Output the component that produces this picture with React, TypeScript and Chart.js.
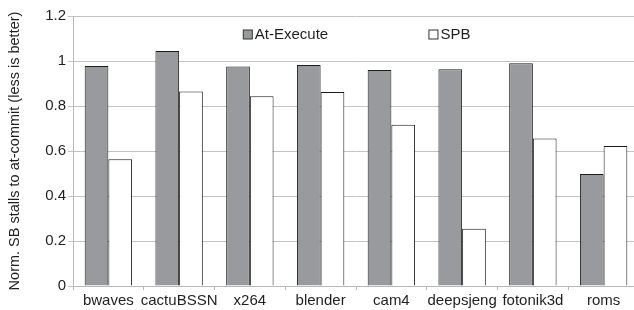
import React, { useEffect, useRef } from "react";
import { Chart, registerables } from "chart.js";

Chart.register(...registerables);

const categories = ["bwaves", "cactuBSSN", "x264", "blender", "cam4", "deepsjeng", "fotonik3d", "roms"];
const atExecute = [0.978, 1.044, 0.976, 0.982, 0.96, 0.963, 0.99, 0.498];
const spb = [0.563, 0.865, 0.843, 0.862, 0.717, 0.255, 0.656, 0.622];
const seriesNames = ["At-Execute", "SPB"];
const yTitle = "Norm. SB stalls to at-commit (less is better)";

const FONT = "'Liberation Sans', Arial, sans-serif";
const TEXT = "#1f1f1f";
const GRAY = "#999a9e";
const EDGE = "#1c1c1c";

const legendPlugin = {
  id: "insideLegend",
  afterDraw(chart: any) {
    const { ctx, chartArea } = chart;
    const w = chartArea.right - chartArea.left;
    const y = chartArea.top + 18.5;
    const items = [
      { label: seriesNames[0], fill: GRAY, x: chartArea.left + w * 0.3 },
      { label: seriesNames[1], fill: "#ffffff", x: chartArea.left + w * 0.628 },
    ];
    ctx.save();
    ctx.font = `15px ${FONT}`;
    ctx.textBaseline = "middle";
    for (const it of items) {
      ctx.fillStyle = it.fill;
      ctx.fillRect(it.x + 0.5, y - 4.5, 9, 9);
      ctx.strokeStyle = "#333";
      ctx.lineWidth = 1;
      ctx.strokeRect(it.x + 0.5, y - 4.5, 9, 9);
      ctx.fillStyle = TEXT;
      ctx.fillText(it.label, it.x + 12, y + 0.5);
    }
    ctx.restore();
  },
};

export default function App() {
  const ref = useRef<HTMLCanvasElement | null>(null);
  useEffect(() => {
    if (!ref.current) return;
    const chart = new Chart(ref.current, {
      type: "bar",
      data: {
        labels: categories,
        datasets: [
          {
            label: seriesNames[0],
            data: atExecute,
            backgroundColor: GRAY,
            borderColor: EDGE,
            borderWidth: 1,
            borderSkipped: "bottom",
            categoryPercentage: 0.67,
            barPercentage: 1.0,
          },
          {
            label: seriesNames[1],
            data: spb,
            backgroundColor: "#ffffff",
            borderColor: EDGE,
            borderWidth: 1,
            borderSkipped: "bottom",
            categoryPercentage: 0.67,
            barPercentage: 1.0,
          },
        ],
      },
      options: {
        responsive: false,
        animation: false,
        devicePixelRatio: 1,
        layout: { padding: { top: 16, right: 1, bottom: -2, left: 0 } },
        plugins: {
          legend: { display: false },
          tooltip: { enabled: false },
        },
        scales: {
          x: {
            offset: true,
            grid: {
              offset: true,
              drawOnChartArea: false,
              drawTicks: true,
              tickLength: 4,
              color: "#b8b8bc",
            },
            border: { color: "#b8b8bc" },
            ticks: {
              color: TEXT,
              font: { family: FONT, size: 15 },
              padding: 2,
              maxRotation: 0,
              autoSkip: false,
            },
          },
          y: {
            min: 0,
            max: 1.2,
            ticks: {
              stepSize: 0.2,
              color: TEXT,
              font: { family: FONT, size: 15 },
              padding: 2,
              callback: (v: any) => String(parseFloat(Number(v).toFixed(1))),
            },
            grid: { color: "#c4c4c8", tickLength: 5 },
            border: { color: "#b8b8bc" },
            title: {
              display: true,
              text: yTitle,
              color: TEXT,
              font: { family: FONT, size: 14.5 },
              padding: { top: 6, bottom: 2 },
            },
            afterFit: (scale: any) => {
              scale.width = 73;
            },
          },
        },
      },
      plugins: [legendPlugin],
    });
    return () => chart.destroy();
  }, []);
  return (
    <div style={{ position: "fixed", left: 0, top: 0, width: 640, height: 310, background: "#fff" }}>
      <canvas ref={ref} width={640} height={310} style={{ width: 640, height: 310, display: "block" }} />
    </div>
  );
}
